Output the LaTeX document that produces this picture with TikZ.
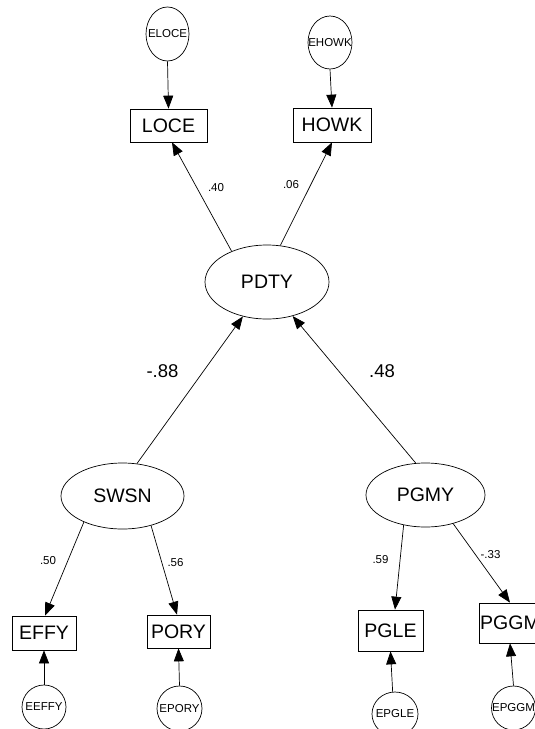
\documentclass[tikz,border=0pt]{standalone}
\usepackage{fontspec}
\setmainfont{Liberation Sans}
\usetikzlibrary{shapes.geometric,arrows.meta}

\tikzset{
  lat/.style={draw, ellipse, inner sep=0pt, line width=0.7pt, font=\fontsize{19.5}{20}\selectfont},
  obs/.style={draw, rectangle, inner sep=0pt, line width=0.7pt, font=\fontsize{19.5}{20}\selectfont},
  err/.style={draw, ellipse, inner sep=0pt, line width=0.7pt, font=\fontsize{11.5}{12}\selectfont},
  path/.style={line width=0.7pt, -{Triangle[length=13pt,width=10pt]}},
  coef/.style={font=\fontsize{11.5}{12}\selectfont, inner sep=0pt},
  bigcoef/.style={font=\fontsize{18.5}{19}\selectfont, inner sep=0pt},
}

\begin{document}
\begin{tikzpicture}[x=1pt, y=-1pt]
\useasboundingbox (0,0) rectangle (535,729);
\clip (0,0) rectangle (535,729);

% latent variables
\node[lat, minimum width=124pt, minimum height=74pt] (pdty) at (267,282) {PDTY};
\node[lat, minimum width=123pt, minimum height=66pt] (swsn) at (122.5,496) {SWSN};
\node[lat, minimum width=119pt, minimum height=64pt] (pgmy) at (425.5,495) {PGMY};

% observed indicators
\node[obs, minimum width=77pt, minimum height=33pt] (loce) at (168.5,125.5) {LOCE};
\node[obs, minimum width=78pt, minimum height=34pt] (howk) at (332,125) {HOWK};
\node[obs, minimum width=64pt, minimum height=34pt] (effy) at (44,633) {EFFY};
\node[obs, minimum width=63pt, minimum height=33pt] (pory) at (178.5,631.5) {PORY};
\node[obs, minimum width=65pt, minimum height=41pt] (pgle) at (390.5,630.5) {PGLE};
\node[obs, minimum width=62pt, minimum height=40pt] (pggm) at (510,623) {\makebox[0pt]{PGGM}};

% error terms
\node[err, minimum width=43pt, minimum height=54pt] (eloce) at (167.5,34) {\makebox[0pt]{ELOCE}};
\node[err, minimum width=44pt, minimum height=53pt] (ehowk) at (330,42.5) {\makebox[0pt]{EHOWK}};
\node[err, minimum width=44pt, minimum height=44pt] (eeffy) at (44,707) {\makebox[0pt]{EEFFY}};
\node[err, minimum width=45pt, minimum height=45pt] (epory) at (179.5,708.5) {\makebox[0pt]{EPORY}};
\node[err, minimum width=46pt, minimum height=44pt] (epgle) at (395,714) {\makebox[0pt]{EPGLE}};
\node[err, minimum width=44pt, minimum height=44pt] (epggm) at (513.5,708) {\makebox[0pt]{EPGGM}};

% structural paths
\draw[path] (swsn.66) -- (pdty.235.6);
\draw[path] (pgmy.107.6) -- (pdty.307.4);

% loadings
\draw[path] (pdty.139.4) -- ([xshift=3.5pt]loce.south);
\draw[path] (pdty.70) -- (howk.south);
\draw[path] (swsn.214.7) -- ([xshift=1pt]effy.north);
\draw[path] (swsn.314.5) -- ([xshift=-1.5pt]pory.north);
\draw[path] (pgmy.234) -- ([xshift=4.5pt]pgle.north);
\draw[path] (pgmy.314.5) -- (pggm.north);

% error paths
\draw[path] (eloce.south) -- (loce.north);
\draw[path] (ehowk.south) -- (howk.north);
\draw[path] (eeffy.north) -- (effy.south);
\draw[path] (epory.north) -- (pory.south);
\draw[path] (epgle.96) -- (pgle.south);
\draw[path] (epggm.north) -- (pggm.south);

% coefficients
\node[coef] (c1) at (216,188) {.40};
\node[coef] (c2) at (291,185) {.06};
\node[bigcoef] (c3) at (162.5,371) {-.88};
\node[bigcoef] (c4) at (382,371) {.48};
\node[coef] (c5) at (48,561) {.50};
\node[coef] (c6) at (175.5,563) {.56};
\node[coef] (c7) at (380.5,560) {.59};
\node[coef] (c8) at (490.5,555) {-.33};
\end{tikzpicture}
\end{document}
